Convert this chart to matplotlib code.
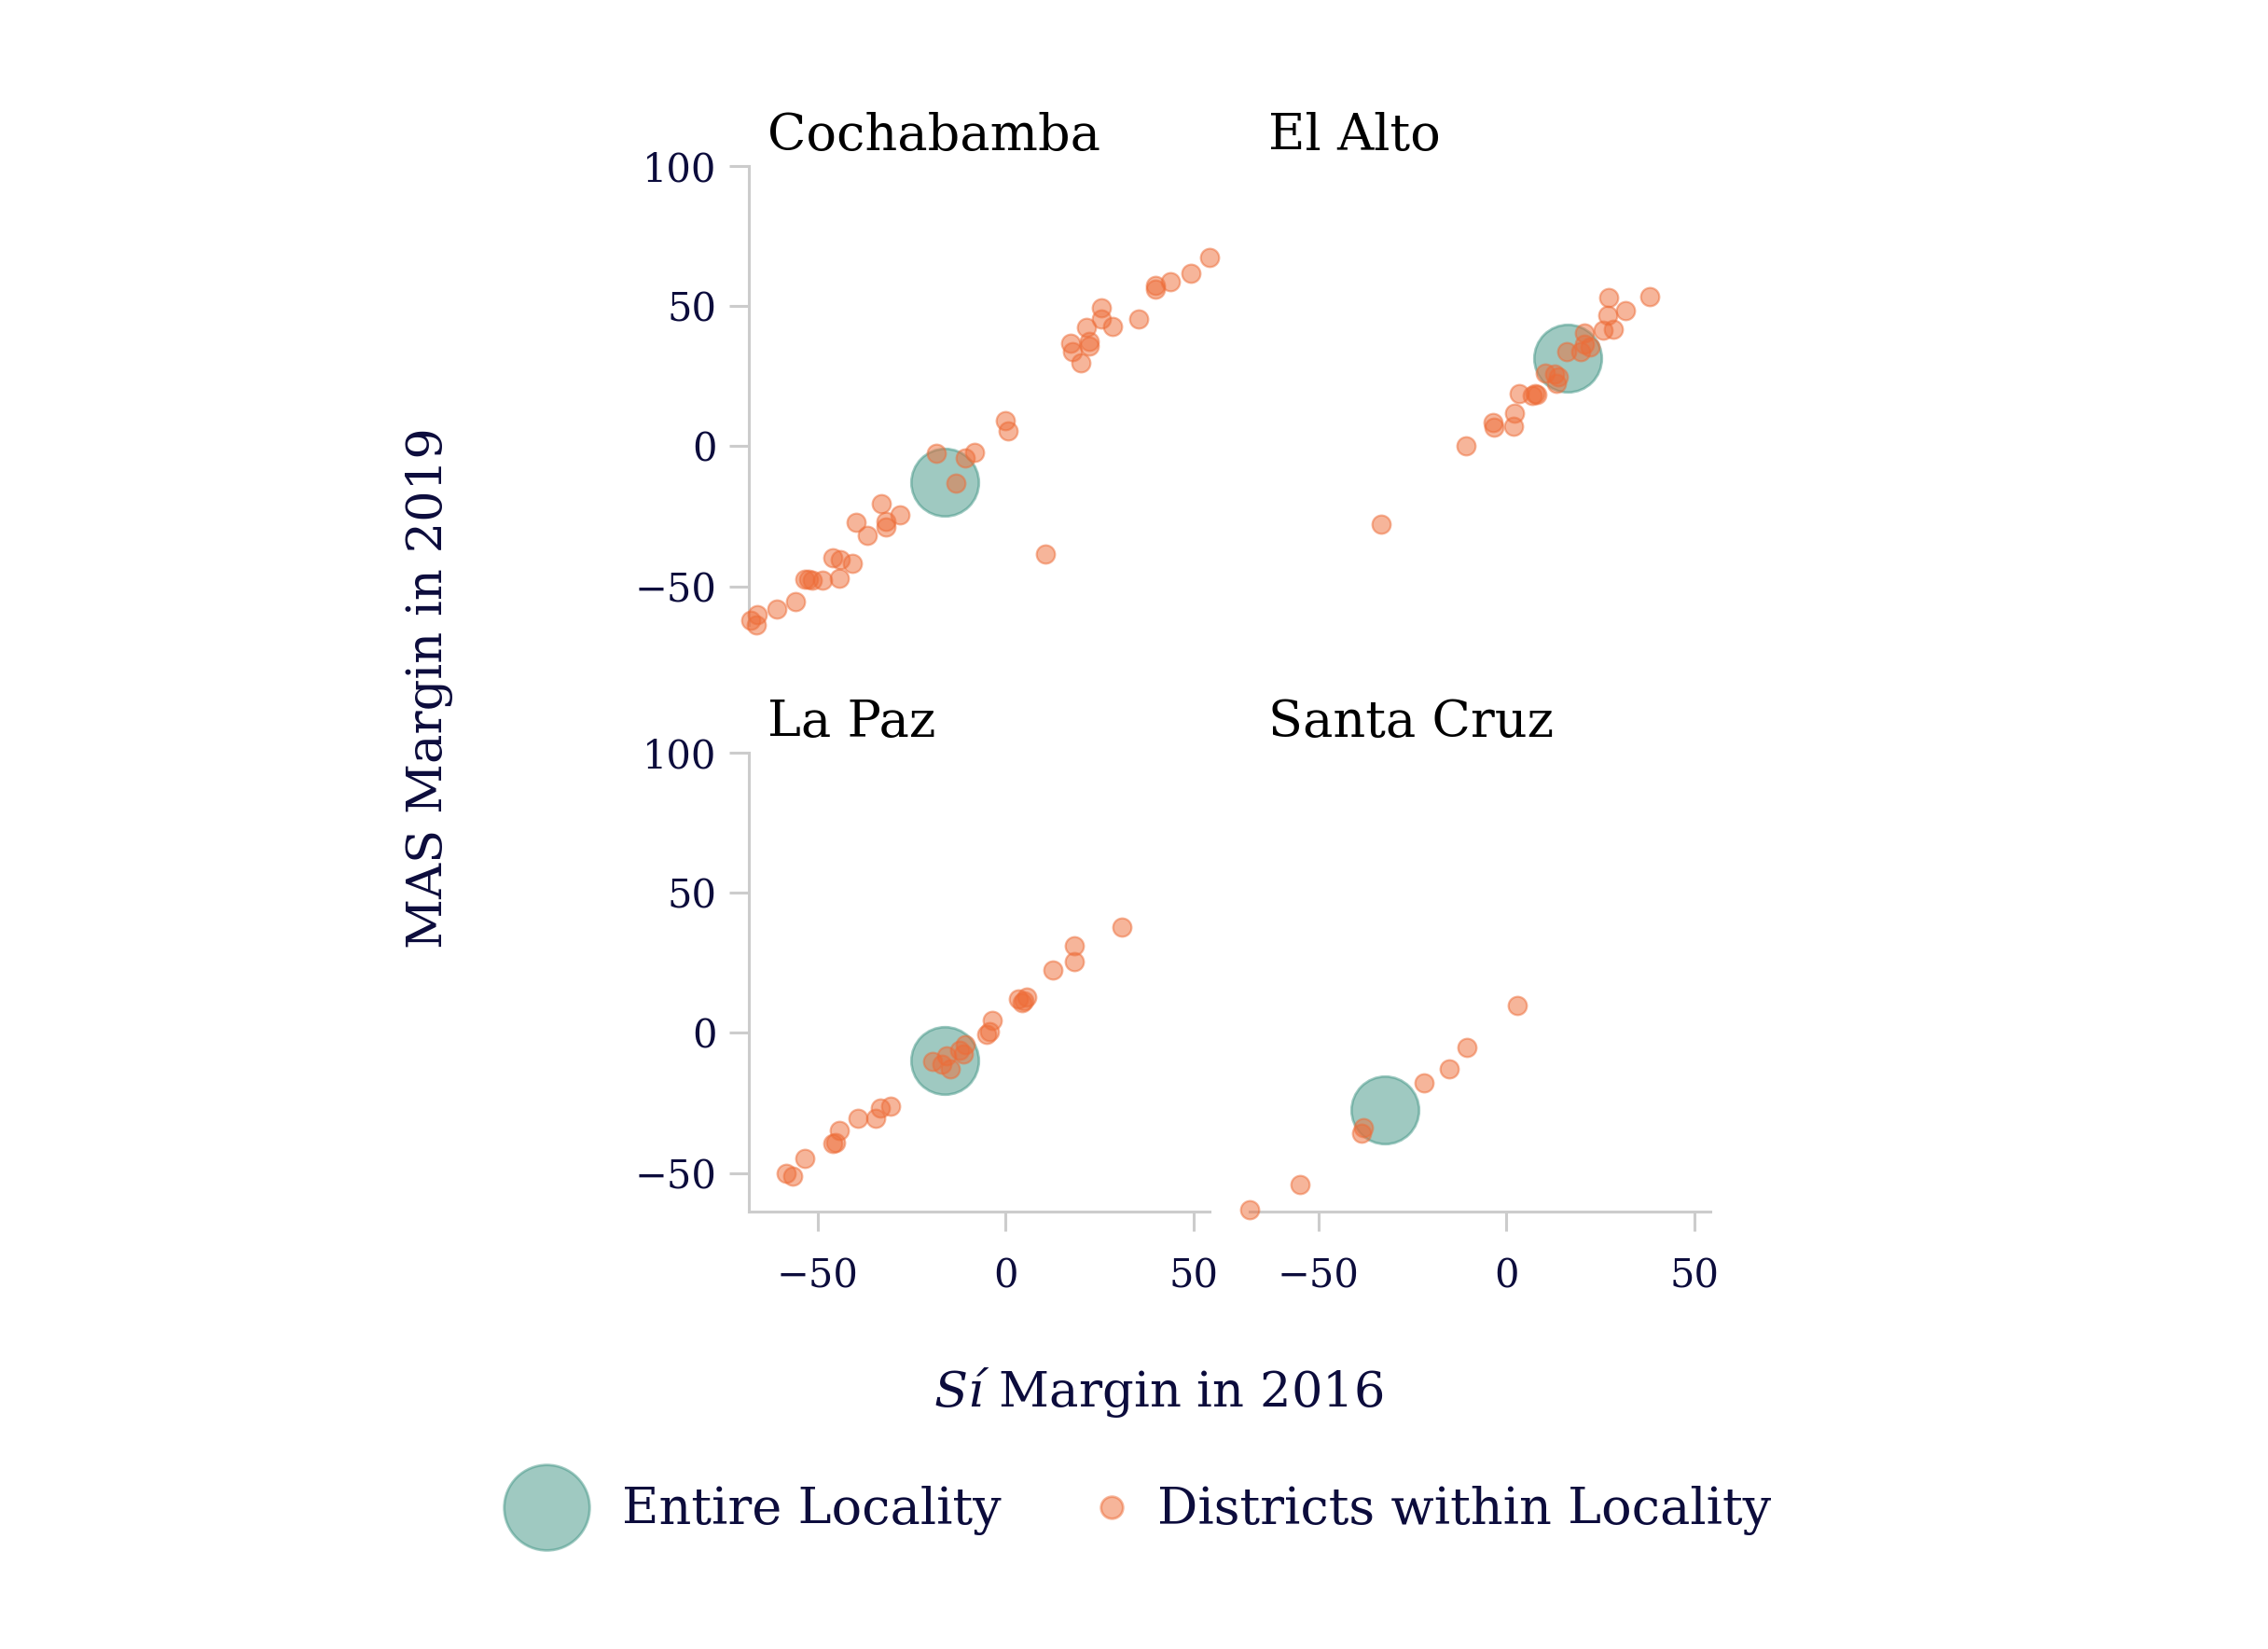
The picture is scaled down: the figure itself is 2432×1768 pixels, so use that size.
import matplotlib
matplotlib.use("Agg")
import matplotlib.pyplot as plt
from matplotlib.lines import Line2D

# districts (x = Si margin 2016, y = MAS margin 2019)
cocha_x = [-67.9, -66.0, -66.2, -60.9, -56.0, -53.5, -52.5, -51.5, -48.6, -44.3,
           -46.0, -44.1, -40.7, -39.8, -36.8, -33.0, -31.9, -31.8, -28.1, -18.4,
           -13.2, -10.6, -8.2, -0.1, 0.7, 10.7, 17.4, 17.8, 20.0, 21.6,
           22.3, 22.4, 25.5, 25.5, 28.6, 35.4, 39.8, 40.0, 43.8, 49.3, 54.3]
cocha_y = [-62.0, -60.2, -63.8, -58.0, -55.4, -47.6, -47.4, -47.7, -47.7, -47.2,
           -39.7, -40.5, -41.9, -27.3, -31.8, -20.4, -26.8, -28.9, -24.6, -2.4,
           -13.2, -4.2, -2.1, 9.0, 5.3, -38.4, 36.8, 33.7, 29.7, 42.4,
           37.4, 35.8, 49.5, 45.3, 42.7, 45.3, 57.5, 55.9, 58.8, 61.7, 67.3]

alto_x = [-33.2, -10.8, -3.5, -3.3, 2.2, 2.0, 3.4, 6.9, 7.6, 8.2,
          10.3, 12.9, 13.9, 13.3, 16.2, 19.8, 20.7, 20.7, 22.4, 25.8,
          28.5, 26.9, 27.2, 31.6, 38.2]
alto_y = [-27.8, 0.0, 8.5, 6.7, 11.7, 7.2, 18.8, 18.0, 18.8, 18.3,
          26.0, 25.7, 24.9, 22.3, 33.7, 33.7, 40.3, 36.3, 35.5, 41.3,
          41.6, 46.6, 53.0, 48.5, 53.5]

lapaz_x = [-58.4, -56.7, -53.3, -46.0, -45.1, -44.3, -39.2, -34.6, -33.4, -30.6,
           -19.4, -17.0, -15.6, -14.8, -12.1, -11.3, -10.6, -5.0, -4.2, -3.5,
           3.4, 4.8, 5.6, 4.4, 12.7, 18.3, 18.4, 31.0]
lapaz_y = [-50.3, -51.1, -44.8, -39.5, -39.0, -35.0, -30.5, -30.5, -27.0, -26.2,
           -10.3, -11.1, -8.2, -13.0, -6.1, -7.4, -4.2, -0.5, 0.5, 4.5,
           12.2, 11.4, 12.7, 10.9, 22.3, 31.0, 25.4, 37.6]

scruz_x = [-68.4, -55.0, -38.4, -38.1, -21.9, -15.2, -10.5, 2.9]
scruz_y = [-63.3, -54.1, -36.0, -33.7, -17.8, -13.0, -5.3, 9.8]

# whole locality
loc_names = ["Cochabamba", "El Alto", "La Paz", "Santa Cruz"]
loc_x = [-16.1, 16.3, -16.3, -32.2]
loc_y = [-12.7, 31.3, -9.8, -27.6]

dist_x = [cocha_x, alto_x, lapaz_x, scruz_x]
dist_y = [cocha_y, alto_y, lapaz_y, scruz_y]

navy = "#0c0c3c"
grey = "#cccccc"
green = "#419585"
orange = "#ee6c37"

plt.rcParams["font.family"] = ["DejaVu Serif"]
plt.rcParams["mathtext.fontset"] = "custom"
plt.rcParams["mathtext.rm"] = "DejaVu Serif"
plt.rcParams["mathtext.it"] = "DejaVu Serif:italic"

fig = plt.figure(figsize=(12.16, 8.84), dpi=200)

W, H = 2432, 1768
lefts = [803, 1340]
tops = [178, 807]
aw, ah = 494, 492

for i, name in enumerate(loc_names):
    row, col = divmod(i, 2)
    ax = fig.add_axes([lefts[col] / W, 1 - (tops[row] + ah) / H, aw / W, ah / H])
    ax.scatter([loc_x[i]], [loc_y[i]], s=680, color=green, alpha=0.5,
               edgecolor=green, linewidth=1, zorder=2, clip_on=False)
    ax.scatter(dist_x[i], dist_y[i], s=50, color=orange, alpha=0.5,
               edgecolor=orange, linewidth=0.8, zorder=3, clip_on=False)
    ax.set_xlim(-68.3, 54.3)
    ax.set_ylim(-63.8, 100)
    ax.set_xticks([-50, 0, 50])
    ax.set_yticks([-50, 0, 50, 100])
    for s in ["top", "right"]:
        ax.spines[s].set_visible(False)
    for s in ["left", "bottom"]:
        ax.spines[s].set_color(grey)
        ax.spines[s].set_linewidth(1.1)
    ax.tick_params(colors=grey, labelcolor=navy, labelsize=15, length=7.5, width=1.1)
    ax.tick_params(axis="y", pad=5)
    ax.tick_params(axis="x", pad=10)
    if col == 1:
        ax.spines["left"].set_visible(False)
        ax.tick_params(axis="y", left=False, labelleft=False)
    if row == 0:
        ax.spines["bottom"].set_visible(False)
        ax.tick_params(axis="x", bottom=False, labelbottom=False)
    ax.text(0.04, 1.035, name, transform=ax.transAxes, fontsize=19.5,
            color="black", ha="left", va="baseline")

fig.text(461 / W, 1 - 738 / H, "MAS Margin in 2019", rotation=90, fontsize=19,
         color=navy, ha="center", va="center")
fig.text(1242 / W, 1 - 1508 / H, r"$\mathit{Sí}$ Margin in 2016", fontsize=19,
         color=navy, ha="center", va="baseline")

h1 = Line2D([], [], linestyle="none", marker="o", markersize=33, color=green,
            alpha=0.5, markeredgecolor=green)
h2 = Line2D([], [], linestyle="none", marker="o", markersize=8.5, color=orange,
            alpha=0.5, markeredgecolor=orange)
fig.legend([h1], ["Entire Locality"], loc="center left",
           bbox_to_anchor=(494 / W, 1 - 1620 / H), frameon=False, fontsize=19.5,
           handlelength=1.6, handletextpad=0.7, labelcolor=navy)
fig.legend([h2], ["Districts within Locality"], loc="center left",
           bbox_to_anchor=(1100 / W, 1 - 1620 / H), frameon=False, fontsize=19.5,
           handlelength=1.6, handletextpad=0.1, labelcolor=navy)

fig.savefig("out.png", dpi=200, facecolor="white")
